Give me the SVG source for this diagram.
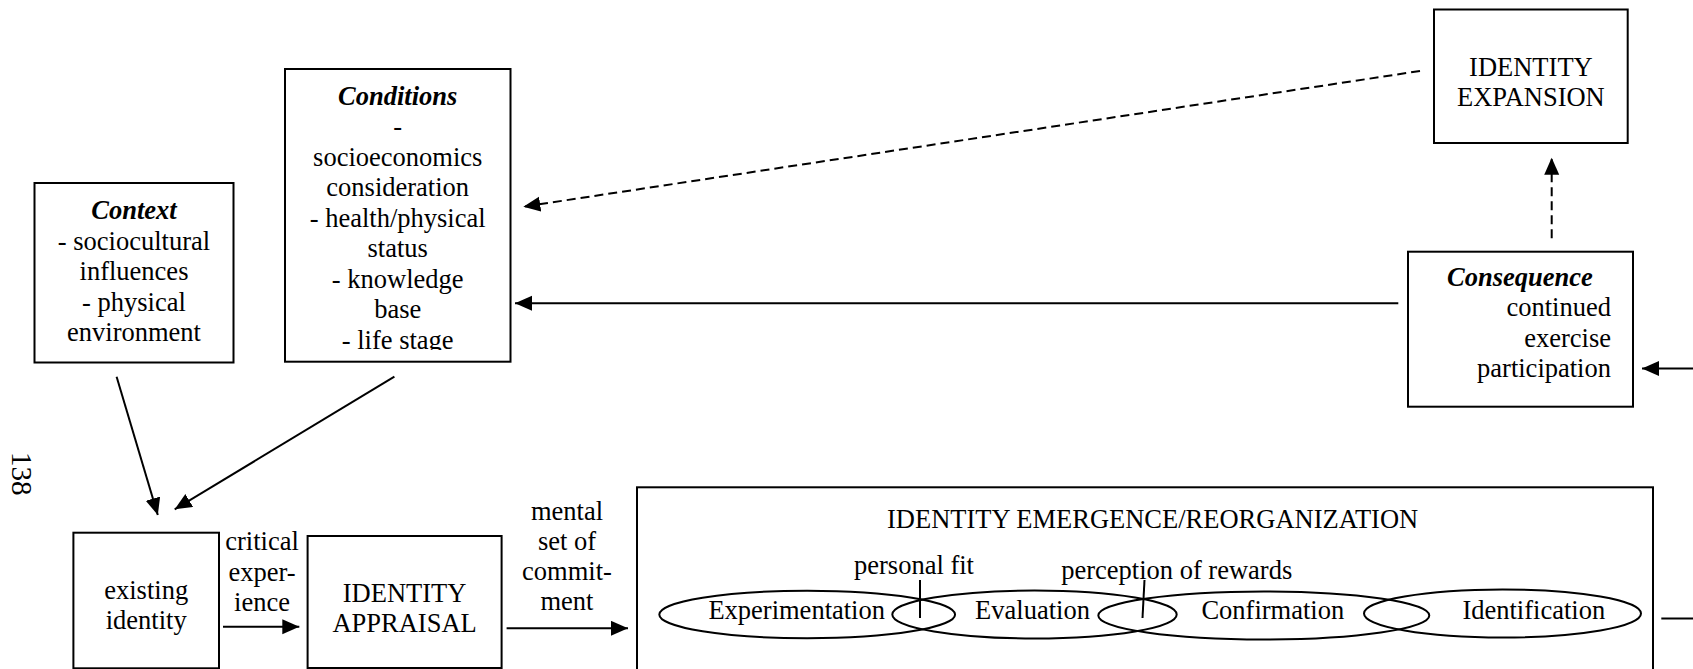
<svg xmlns="http://www.w3.org/2000/svg" width="1693" height="669" viewBox="0 0 1693 669">
<style>
text{font-family:"Liberation Serif","Times New Roman",serif;font-size:26.5px;fill:#000}
.c{text-anchor:middle}
.e{text-anchor:end}
.bi{font-weight:bold;font-style:italic}
.box{fill:#fff;stroke:#000;stroke-width:2}
.ell{fill:none;stroke:#000;stroke-width:2}
.ln{stroke:#000;stroke-width:2;fill:none}
.dash{stroke-dasharray:9 5}
</style>
<defs>
<marker id="ah" markerUnits="userSpaceOnUse" markerWidth="18" markerHeight="16" refX="17" refY="7.5" orient="auto">
<path d="M0,0 L17,7.5 L0,15 z" fill="#000"/>
</marker>
<clipPath id="condClip"><rect x="285" y="69" width="226" height="281"/></clipPath>
</defs>
<rect width="1693" height="669" fill="#fff"/>

<text transform="translate(12,452) rotate(90)" style="font-size:29px">138</text>

<g id="context">
<rect class="box" x="34.5" y="183" width="199" height="179.5"/>
<text class="c bi" x="134" y="219">Context</text>
<text class="c" x="134" y="249.5">- sociocultural</text>
<text class="c" x="134" y="280">influences</text>
<text class="c" x="134" y="310.5">- physical</text>
<text class="c" x="134" y="341">environment</text>
</g>

<g id="conditions">
<rect class="box" x="285" y="69" width="225.5" height="292.7"/>
<g clip-path="url(#condClip)">
<text class="c bi" x="397.7" y="104.5">Conditions</text>
<text class="c" x="397.7" y="135">-</text>
<text class="c" x="397.7" y="165.5">socioeconomics</text>
<text class="c" x="397.7" y="196">consideration</text>
<text class="c" x="397.7" y="226.5">- health/physical</text>
<text class="c" x="397.7" y="257">status</text>
<text class="c" x="397.7" y="287.5">- knowledge</text>
<text class="c" x="397.7" y="318">base</text>
<text class="c" x="397.7" y="348.5">- life stage</text>
</g>
</g>

<g id="identity-expansion">
<rect class="box" x="1434" y="9.5" width="193.7" height="133.5"/>
<text class="c" x="1530.9" y="76">IDENTITY</text>
<text class="c" x="1530.9" y="106">EXPANSION</text>
</g>

<g id="consequence">
<rect class="box" x="1408" y="251.7" width="225" height="155"/>
<text class="bi" x="1447" y="285.5">Consequence</text>
<text class="e" x="1611" y="316">continued</text>
<text class="e" x="1611" y="346.5">exercise</text>
<text class="e" x="1611" y="377">participation</text>
</g>

<g id="existing-identity">
<rect class="box" x="73.4" y="532.7" width="145.6" height="135.6"/>
<text class="c" x="146.2" y="598.5">existing</text>
<text class="c" x="146.2" y="629">identity</text>
</g>

<g id="identity-appraisal">
<rect class="box" x="307.6" y="536" width="194" height="132"/>
<text class="c" x="404.6" y="601.5">IDENTITY</text>
<text class="c" x="404.6" y="632">APPRAISAL</text>
</g>

<g id="identity-emergence">
<rect class="box" x="637" y="487.3" width="1016" height="200"/>
<text class="c" x="1152.6" y="528">IDENTITY EMERGENCE/REORGANIZATION</text>
<ellipse class="ell" cx="807.2" cy="614.5" rx="147.9" ry="23.8"/>
<ellipse class="ell" cx="1034.5" cy="614.5" rx="142.2" ry="24"/>
<ellipse class="ell" cx="1263.8" cy="615.5" rx="165.5" ry="24"/>
<ellipse class="ell" cx="1502.5" cy="613.5" rx="138.5" ry="24"/>
<text class="c" x="796.7" y="618.5">Experimentation</text>
<text class="c" x="1032.5" y="618.5">Evaluation</text>
<text class="c" x="1272.8" y="618.5">Confirmation</text>
<text class="c" x="1533.8" y="618.5">Identification</text>
<text class="c" x="914" y="574">personal fit</text>
<text class="c" x="1176.7" y="579">perception of rewards</text>
<line class="ln" x1="920" y1="580" x2="920" y2="618"/>
<line class="ln" x1="1144.5" y1="580" x2="1142.5" y2="618"/>
</g>

<g id="connectors">
<line class="ln dash" x1="1420" y1="71" x2="523.3" y2="206.7" marker-end="url(#ah)"/>
<line class="ln dash" x1="1551.7" y1="238.3" x2="1551.7" y2="157.7" marker-end="url(#ah)"/>
<line class="ln" x1="1398.3" y1="303.3" x2="515" y2="303.3" marker-end="url(#ah)"/>
<line class="ln" x1="1693" y1="368.5" x2="1642" y2="368.5" marker-end="url(#ah)"/>
<line class="ln" x1="116.6" y1="376.7" x2="157.8" y2="515" marker-end="url(#ah)"/>
<line class="ln" x1="394.4" y1="376.7" x2="174.7" y2="509.3" marker-end="url(#ah)"/>
<line class="ln" x1="223" y1="626.7" x2="299.3" y2="626.7" marker-end="url(#ah)"/>
<line class="ln" x1="506.6" y1="628.3" x2="628" y2="628.3" marker-end="url(#ah)"/>
<line class="ln" x1="1661.3" y1="618.5" x2="1693" y2="618.5"/>
<text class="c" x="262" y="550">critical</text>
<text class="c" x="262" y="580.5">exper-</text>
<text class="c" x="262" y="611">ience</text>
<text class="c" x="567" y="520">mental</text>
<text class="c" x="567" y="550">set of</text>
<text class="c" x="567" y="580">commit-</text>
<text class="c" x="567" y="610">ment</text>
</g>
</svg>
